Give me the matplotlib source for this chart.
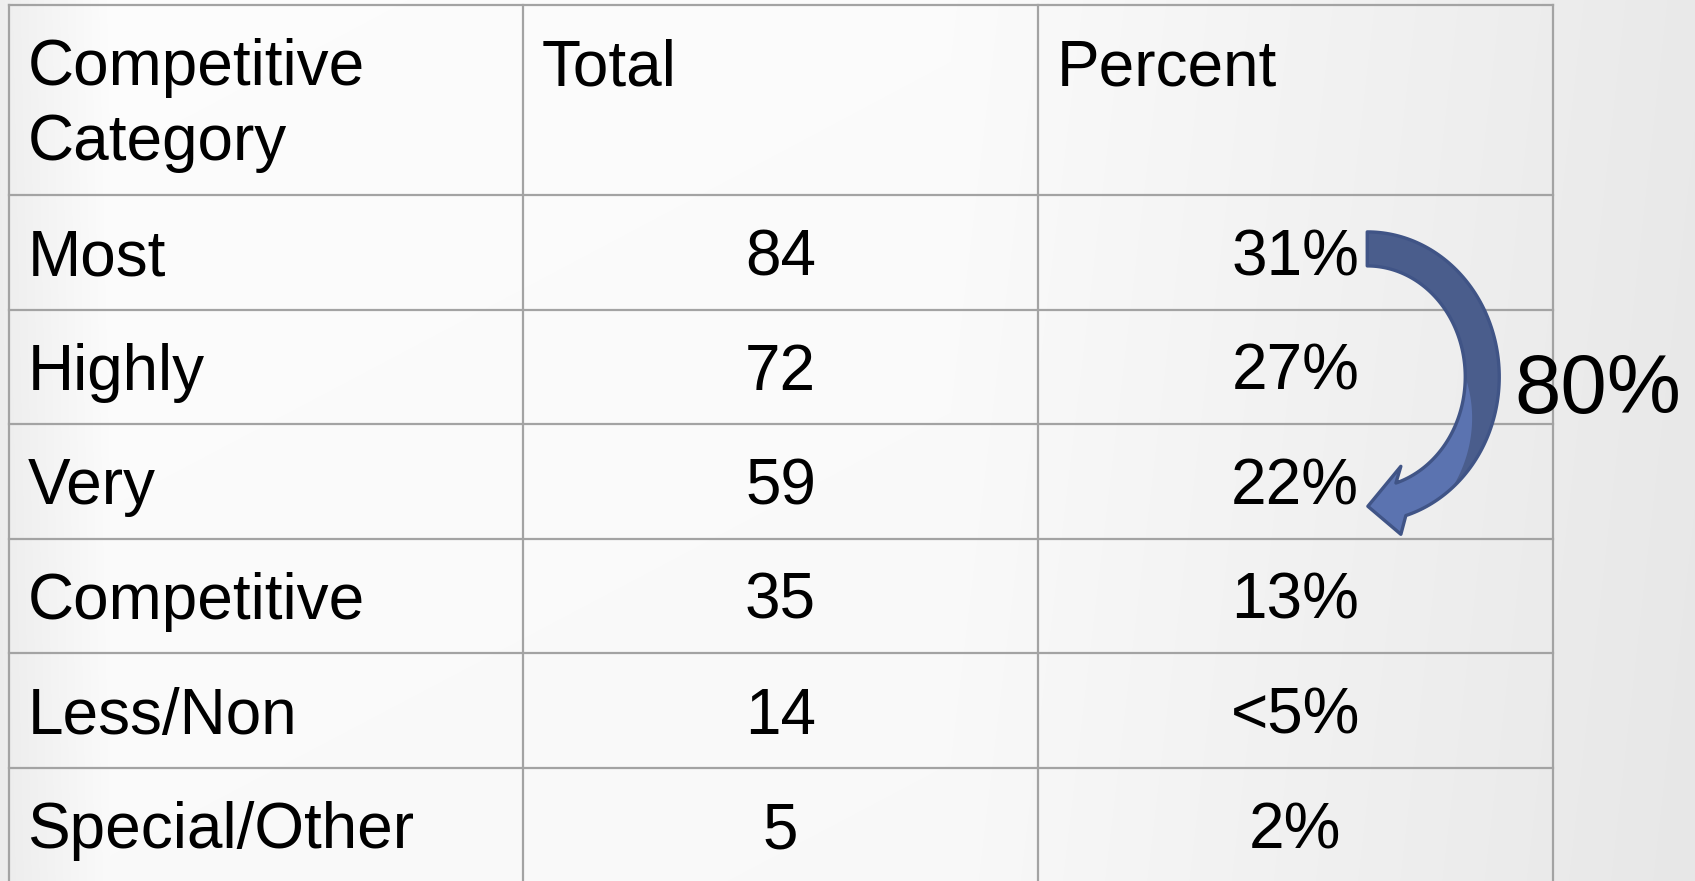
import numpy as np
import matplotlib.pyplot as plt
from matplotlib.patches import Polygon

# table contents
headers = ['Competitive\nCategory', 'Total', 'Percent']
categories = ['Most', 'Highly', 'Very', 'Competitive', 'Less/Non', 'Special/Other']
totals = [84, 72, 59, 35, 14, 5]
percents = ['31%', '27%', '22%', '13%', '<5%', '2%']
# bracket arrow: from first row to third row
bracket_rows = (0, 2)
bracket_label = '80%'

W, H = 1695, 881
fig = plt.figure(figsize=(W / 100, H / 100), dpi=100)
ax = fig.add_axes([0, 0, 1, 1])

# soft grey gradient background
xs = np.arange(W)
ys = np.arange(H)
hprof = np.interp(xs, [0, 110, 950, 1695], [0.935, 0.99, 0.985, 0.915])
vprof = np.interp(ys, [0, H], [1.0, 0.99])
bg = np.outer(vprof, hprof)
ax.imshow(np.dstack([bg] * 3), extent=[0, W, H, 0], aspect='auto', zorder=0)
ax.set_xlim(0, W)
ax.set_ylim(H, 0)
ax.axis('off')

font = 'Liberation Sans'
fs = 46
em = fs / 0.72
cap = 0.716 * em

# table grid
col_x = np.array([8.5, 523, 1038, 1552.5])
header_top, header_bot, row_h = 5, 195, 114.6
row_edges = header_bot + row_h * np.arange(len(categories) + 1)
grid_kw = dict(color='#a3a3a3', lw=1.6, zorder=2, solid_capstyle='projecting')
for y in np.concatenate([[header_top], row_edges]):
    ax.plot([col_x[0], col_x[-1]], [y, y], **grid_kw)
for x in col_x:
    ax.plot([x, x], [header_top, row_edges[-1]], **grid_kw)

# header text
for j, h in enumerate(headers):
    for k, line in enumerate(h.split('\n')):
        ax.text(col_x[j] + 19, 85 + k * 75, line, ha='left', va='baseline',
                fontsize=fs, family=font, zorder=3)

# body rows
centers = (row_edges[:-1] + row_edges[1:]) / 2
col_c = (col_x[:-1] + col_x[1:]) / 2
for i, (cat, tot, pct) in enumerate(zip(categories, totals, percents)):
    yb = centers[i] + cap / 2
    ax.text(col_x[0] + 19, yb, cat, ha='left', va='baseline', fontsize=fs, family=font, zorder=3)
    ax.text(col_c[1], yb, str(tot), ha='center', va='baseline', fontsize=fs, family=font, zorder=3)
    ax.text(col_c[2], yb, pct, ha='center', va='baseline', fontsize=fs, family=font, zorder=3)

# curved arrow (half ellipse) next to the percent column
r0, r1 = bracket_rows
cx = col_c[2] + 72
cy = (centers[r0] + centers[r1]) / 2 + 10
rx, ry = 115, 128
hw = 17          # half shaft width
th_end = 73      # where the head starts (deg)


def edge(th, off):
    t = np.radians(th)
    return np.column_stack([cx + (rx + off) * np.cos(t), cy + (ry + off) * np.sin(t)])


th = np.linspace(-90, th_end, 120)
outer = edge(th, hw)
inner = edge(th, -hw)
base = edge([th_end], 0)[0]
head = np.array([[base[0], base[1] + 35], [base[0] - 33, base[1] + 7], [base[0], base[1] - 33]])
full = np.vstack([outer, head, inner[::-1]])
ax.add_patch(Polygon(full, closed=True, facecolor='#5b73b0', edgecolor='none', zorder=4))

# darker front face of the ribbon
th_d = np.linspace(-90, 50, 100)
offs = np.where(th_d < 0, -hw, -hw + 2 * hw * np.clip(th_d / 50, 0, 1))
t = np.radians(th_d)
mid = np.column_stack([cx + (rx + offs) * np.cos(t), cy + (ry + offs) * np.sin(t)])
dark = np.vstack([edge(th_d, hw), mid[::-1]])
ax.add_patch(Polygon(dark, closed=True, facecolor='#4a5d8c', edgecolor='none', zorder=5))
ax.add_patch(Polygon(full, closed=True, facecolor='none', edgecolor='#405486',
                     lw=2.4, joinstyle='round', zorder=6))

ax.text(1514, 413, bracket_label, ha='left', va='baseline', fontsize=60, family=font, zorder=7)

fig.savefig('out.png', dpi=100)
